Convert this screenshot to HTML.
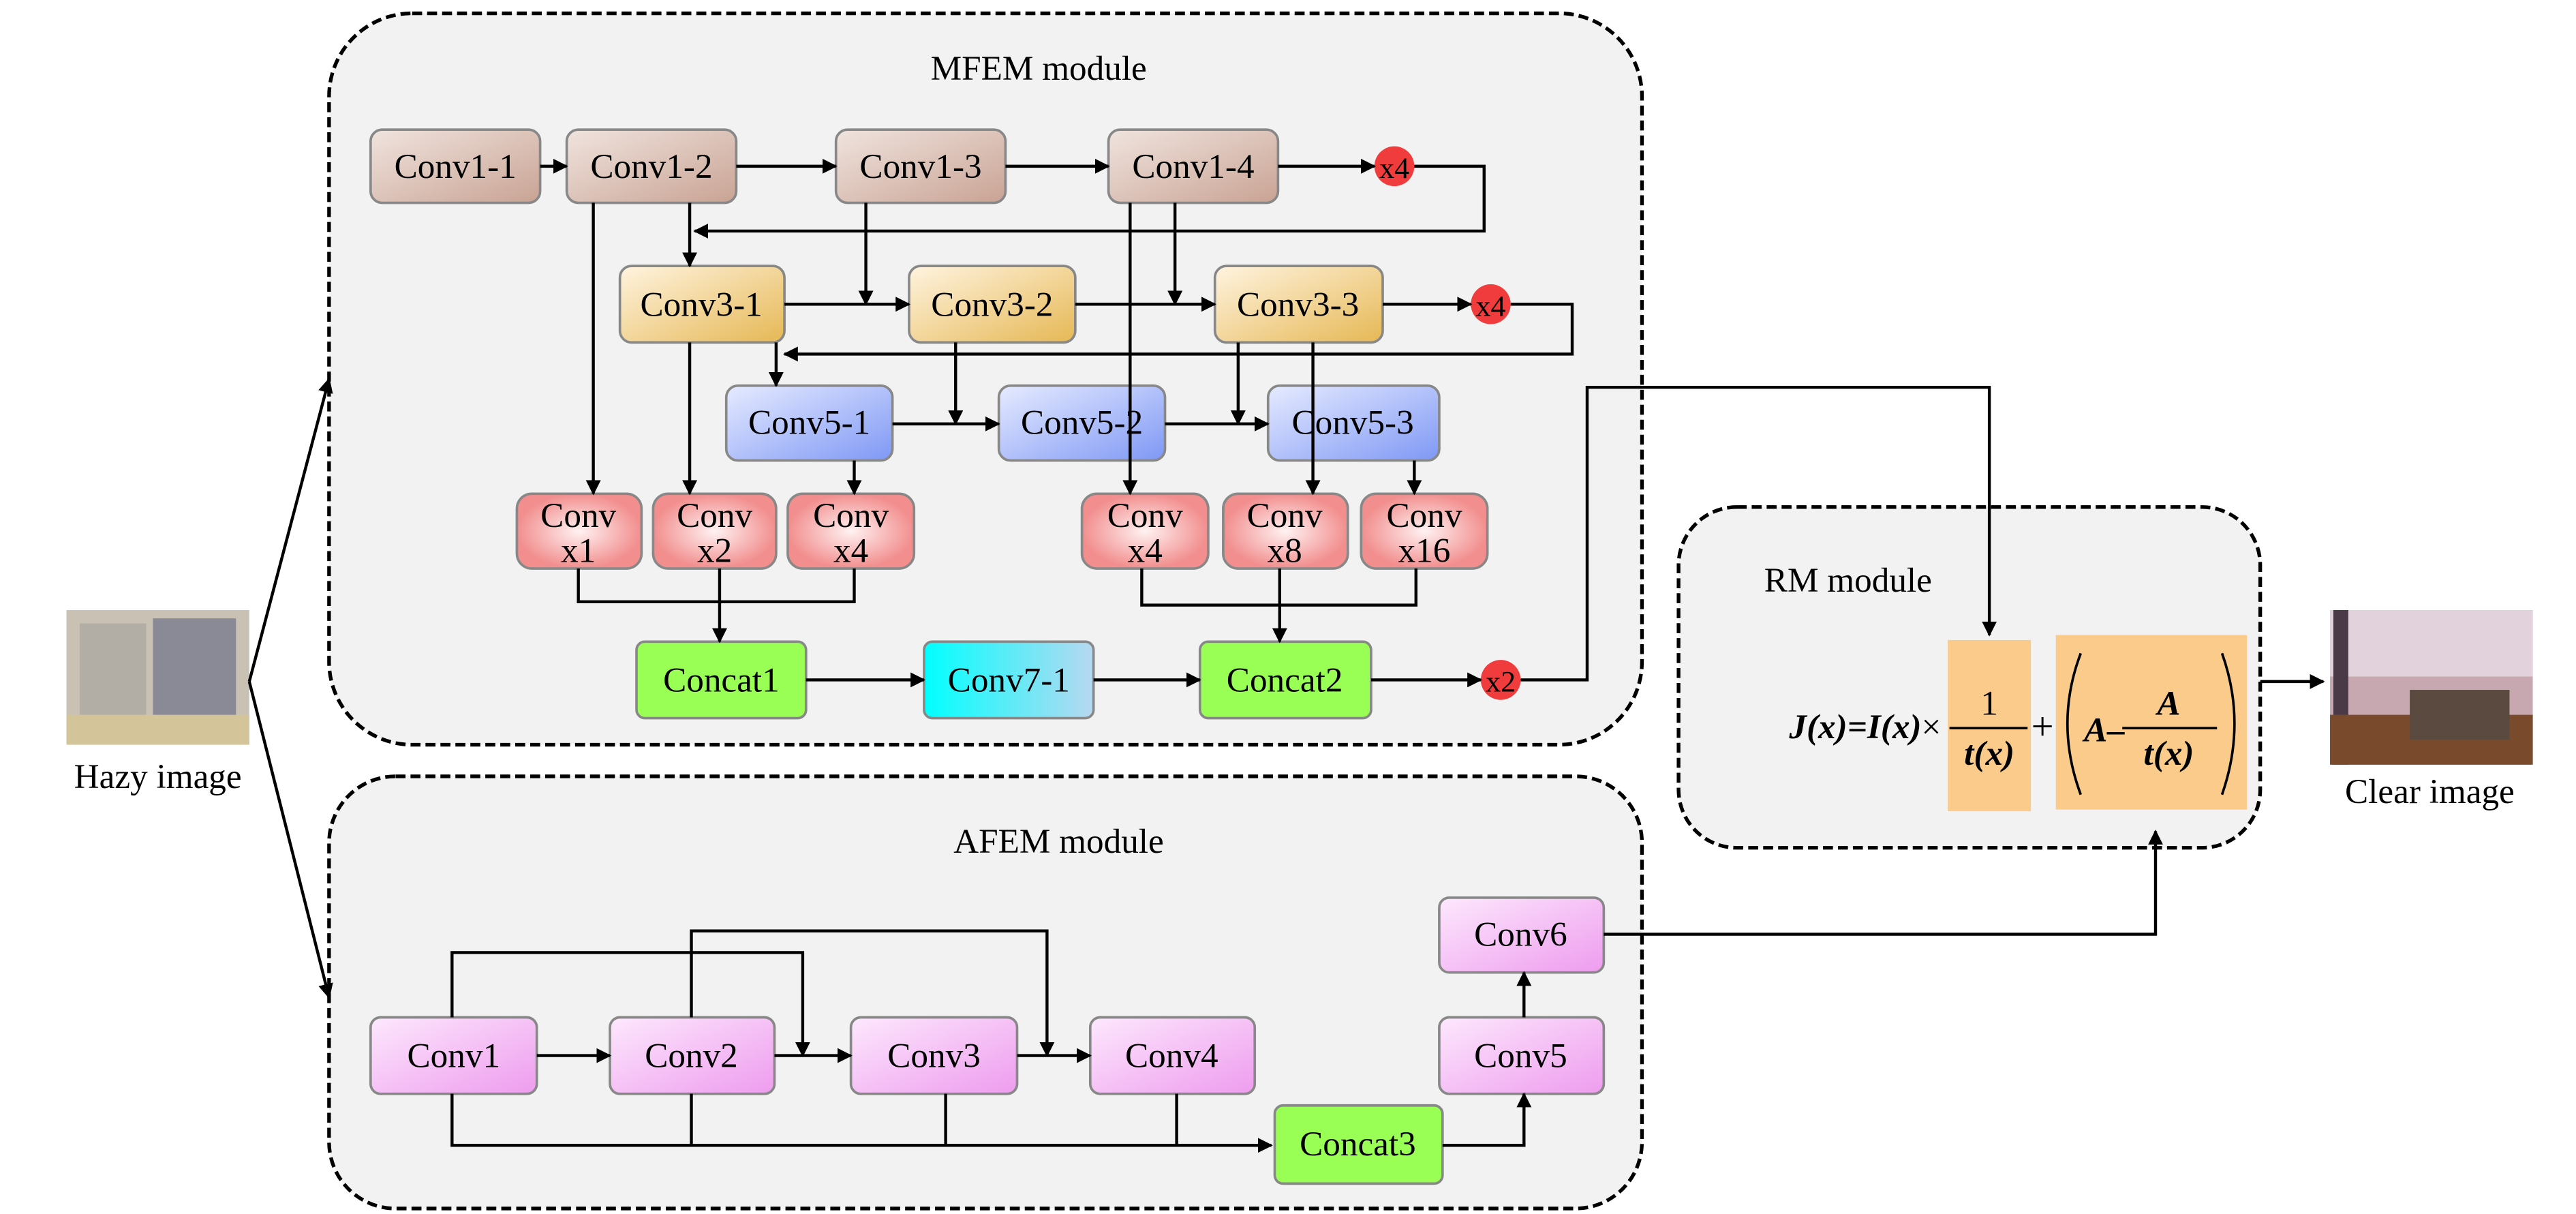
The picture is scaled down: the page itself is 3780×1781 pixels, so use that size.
<!DOCTYPE html>
<html><head><meta charset="utf-8"><style>html,body{margin:0;padding:0;background:#fff}svg{display:block}</style></head>
<body>
<svg width="3780" height="1781" viewBox="0 0 1550 730.3" preserveAspectRatio="none" xmlns="http://www.w3.org/2000/svg" font-family="Liberation Serif, serif">
<defs>
<marker id="a" viewBox="0 0 10 10" refX="9" refY="5" markerWidth="5" markerHeight="5" orient="auto"><path d="M0,0L10,5L0,10z" fill="#000"/></marker>
<linearGradient id="g1" x1="0" y1="0" x2="1" y2="1"><stop offset="0" stop-color="#f0e4de"/><stop offset="1" stop-color="#c9a394"/></linearGradient>
<linearGradient id="g3" x1="0" y1="0" x2="1" y2="1"><stop offset="0" stop-color="#fff4e0"/><stop offset="1" stop-color="#e6b855"/></linearGradient>
<linearGradient id="g5" x1="0" y1="0" x2="1" y2="1"><stop offset="0" stop-color="#e6ebff"/><stop offset="1" stop-color="#7f98f5"/></linearGradient>
<radialGradient id="gp"><stop offset="0" stop-color="#fff2f2"/><stop offset="1" stop-color="#f28e8e"/></radialGradient>
<linearGradient id="gc" x1="0" y1="0" x2="1" y2="0"><stop offset="0" stop-color="#00ffff"/><stop offset="1" stop-color="#b8d8f0"/></linearGradient>
<linearGradient id="gm" x1="0" y1="0" x2="1" y2="1"><stop offset="0" stop-color="#fde8fd"/><stop offset="1" stop-color="#ee9cee"/></linearGradient>
</defs>
<g fill="#f2f2f2" stroke="#000" stroke-width="2.2" stroke-dasharray="6,3">
<rect x="198" y="8" width="790" height="440" rx="50"/>
<rect x="198" y="467" width="790" height="260" rx="40"/>
<rect x="1010" y="305" width="350" height="205" rx="35"/>
</g>
<g font-size="21" text-anchor="middle">
<text x="625" y="48">MFEM module</text>
<text x="637" y="513">AFEM module</text>
<text x="1112" y="356">RM module</text>
<text x="95" y="474">Hazy image</text>
<text x="1462" y="483">Clear image</text>
</g>
<!-- photos -->
<rect x="40" y="367" width="110" height="81" fill="#c9c2b4"/>
<rect x="48" y="375" width="40" height="70" fill="#b2aea6"/>
<rect x="92" y="372" width="50" height="74" fill="#8a8a96"/>
<rect x="40" y="430" width="110" height="18" fill="#d4c49a"/>
<rect x="1402" y="367" width="122" height="93" fill="#c7a8b0"/>
<rect x="1402" y="367" width="122" height="40" fill="#e2d2dc"/>
<rect x="1404" y="367" width="9" height="93" fill="#4a3a48"/>
<rect x="1402" y="430" width="122" height="30" fill="#7a4a2c"/>
<rect x="1450" y="415" width="60" height="30" fill="#5a4a40"/>
<!-- boxes -->
<g stroke="#888" stroke-width="1.5">
<g fill="url(#g1)"><rect x="223" y="78" width="102" height="44" rx="7"/><rect x="341" y="78" width="102" height="44" rx="7"/><rect x="503" y="78" width="102" height="44" rx="7"/><rect x="667" y="78" width="102" height="44" rx="7"/></g>
<g fill="url(#g3)"><rect x="373" y="160" width="99" height="46" rx="7"/><rect x="547" y="160" width="100" height="46" rx="7"/><rect x="731" y="160" width="101" height="46" rx="7"/></g>
<g fill="url(#g5)"><rect x="437" y="232" width="100" height="45" rx="7"/><rect x="601" y="232" width="100" height="45" rx="7"/><rect x="763" y="232" width="103" height="45" rx="7"/></g>
<g fill="url(#gp)"><rect x="311" y="297" width="75" height="45" rx="9"/><rect x="393" y="297" width="74" height="45" rx="9"/><rect x="474" y="297" width="76" height="45" rx="9"/><rect x="651" y="297" width="76" height="45" rx="9"/><rect x="736" y="297" width="75" height="45" rx="9"/><rect x="819" y="297" width="76" height="45" rx="9"/></g>
<g fill="#99ff55"><rect x="383" y="386" width="102" height="46" rx="5"/><rect x="722" y="386" width="103" height="46" rx="5"/><rect x="767" y="665" width="101" height="47" rx="5"/></g>
<rect x="556" y="386" width="102" height="46" rx="5" fill="url(#gc)"/>
<g fill="url(#gm)"><rect x="223" y="612" width="100" height="46" rx="6"/><rect x="367" y="612" width="99" height="46" rx="6"/><rect x="512" y="612" width="100" height="46" rx="6"/><rect x="656" y="612" width="99" height="46" rx="6"/><rect x="866" y="612" width="99" height="46" rx="6"/><rect x="866" y="540" width="99" height="45" rx="6"/></g>
</g>
<g fill="#f03c3c"><circle cx="839" cy="100" r="12"/><circle cx="897" cy="183" r="12"/><circle cx="903" cy="409" r="12"/></g>
<g font-size="21" text-anchor="middle">
<text x="274" y="107">Conv1-1</text><text x="392" y="107">Conv1-2</text><text x="554" y="107">Conv1-3</text><text x="718" y="107">Conv1-4</text>
<text x="422" y="190">Conv3-1</text><text x="597" y="190">Conv3-2</text><text x="781" y="190">Conv3-3</text>
<text x="487" y="261">Conv5-1</text><text x="651" y="261">Conv5-2</text><text x="814" y="261">Conv5-3</text>
<text x="348" y="317">Conv</text><text x="348" y="338">x1</text>
<text x="430" y="317">Conv</text><text x="430" y="338">x2</text>
<text x="512" y="317">Conv</text><text x="512" y="338">x4</text>
<text x="689" y="317">Conv</text><text x="689" y="338">x4</text>
<text x="773" y="317">Conv</text><text x="773" y="338">x8</text>
<text x="857" y="317">Conv</text><text x="857" y="338">x16</text>
<text x="434" y="416">Concat1</text><text x="607" y="416">Conv7-1</text><text x="773" y="416">Concat2</text><text x="817" y="695">Concat3</text>
<text x="273" y="642">Conv1</text><text x="416" y="642">Conv2</text><text x="562" y="642">Conv3</text><text x="705" y="642">Conv4</text><text x="915" y="642">Conv5</text><text x="915" y="569">Conv6</text>
<text x="839" y="107" font-size="18">x4</text><text x="897" y="190" font-size="18">x4</text><text x="903" y="416" font-size="18">x2</text>
</g>
<!-- connectors -->
<g stroke="#000" stroke-width="1.8" fill="none" marker-end="url(#a)">
<path d="M325,100H341"/><path d="M443,100H503"/><path d="M605,100H667"/><path d="M769,100H827"/>
<path d="M851,100H893V139H418"/>
<path d="M472,183H547"/><path d="M647,183H731"/><path d="M832,183H885"/>
<path d="M909,183H946V213H472"/>
<path d="M537,255H601"/><path d="M701,255H763"/>
<path d="M485,409H556"/><path d="M658,409H722"/><path d="M825,409H891"/>
<path d="M357,122V297"/><path d="M415,122V160"/><path d="M521,122V183"/><path d="M680,122V297"/><path d="M707,122V183"/>
<path d="M415,206V297"/><path d="M467,206V232"/><path d="M575,206V255"/><path d="M745,206V255"/><path d="M790,206V297"/>
<path d="M514,277V297"/><path d="M851,277V297"/>
<path d="M433,362V386"/><path d="M770,364V386"/>
<path d="M915,409H955V233H1197V382"/>
<path d="M150,410L198,228"/><path d="M150,410L198,600"/>
<path d="M1360,410H1398"/>
<path d="M323,635H367"/><path d="M466,635H512"/><path d="M612,635H656"/>
<path d="M272,612V573H483V635"/><path d="M416,612V560H630V635"/>
<path d="M272,658V689H765"/><path d="M868,689H917V658"/><path d="M917,612V585"/>
<path d="M965,562H1297V500"/>
</g>
<g stroke="#000" stroke-width="1.8" fill="none">
<path d="M348,342V362H514V342"/><path d="M433,342V362"/>
<path d="M687,342V364H852V342"/><path d="M770,342V364"/>
<path d="M416,658V689"/><path d="M569,658V689"/><path d="M708,658V689"/>
</g>
<!-- formula -->
<rect x="1172" y="385" width="50" height="103" fill="#fbcb8c"/>
<rect x="1237" y="382" width="115" height="105" fill="#fbcb8c"/>
<g font-size="21" font-weight="bold" font-style="italic">
<text x="1168" y="444" text-anchor="end">J(x)=I(x)<tspan font-weight="normal" font-style="normal">×</tspan></text>
<text x="1197" y="430" text-anchor="middle" font-weight="normal" font-style="normal">1</text>
<text x="1197" y="460" text-anchor="middle">t(x)</text>
<text x="1229" y="445" text-anchor="middle" font-weight="normal" font-style="normal" font-size="24">+</text>
<text x="1254" y="446">A–</text>
<text x="1305" y="430" text-anchor="middle">A</text>
<text x="1305" y="460" text-anchor="middle">t(x)</text>
</g>
<g stroke="#000" stroke-width="1.5" fill="none">
<path d="M1173,438H1220"/><path d="M1277,438H1334"/>
<path d="M1252,393Q1236,435 1252,478"/><path d="M1337,393Q1352,435 1337,478"/>
</g>
</svg>
</body></html>
